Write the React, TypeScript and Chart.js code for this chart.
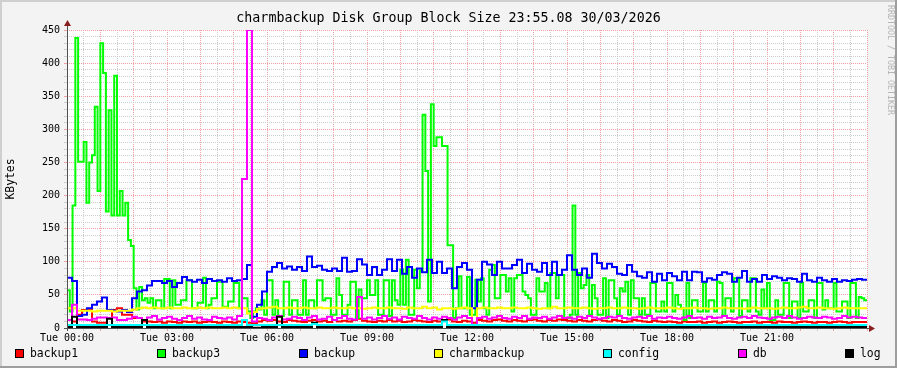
import React, { useEffect, useRef } from 'react';
import { Chart, registerables } from 'chart.js';

Chart.register(...registerables);

const TITLE = 'charmbackup Disk Group Block Size 23:55.08 30/03/2026';
const Y_LABEL = 'KBytes';
const WATERMARK = 'RRDTOOL / TOBI OETIKER';
const X_LABELS = ['Tue 00:00', 'Tue 03:00', 'Tue 06:00', 'Tue 09:00', 'Tue 12:00', 'Tue 15:00', 'Tue 18:00', 'Tue 21:00'];
const Y_MAX = 450;
const DAY_MINUTES = 1440;
const FINE_STEP = 5;   // minutes per sample (backup3)
const COARSE_STEP = 9; // minutes per sample (others)

const SERIES_NAMES = ['backup1', 'backup3', 'backup', 'charmbackup', 'config', 'db', 'log'];
const SERIES_COLORS = ['#ff0000', '#00ff00', '#0000ff', '#ffff00', '#00ffff', '#ff00ff', '#000000'];

const backup1 = [
  12, 10, 20, 27, 27, 10, 8, 8, 15, 27,
  30, 20, 20, 15, 15, 10, 10, 9, 10, 8,
  10, 9, 8, 10, 9, 10, 8, 9, 10, 9,
  8, 10, 9, 8, 10, 9, 8, 7, 10, 12,
  11, 12, 10, 9, 12, 11, 10, 9, 11, 12,
  10, 11, 9, 12, 10, 11, 10, 12, 14, 11,
  10, 9, 11, 10, 12, 10, 11, 9, 10, 12,
  11, 10, 9, 11, 10, 12, 13, 10, 9, 11,
  10, 8, 12, 11, 10, 12, 13, 11, 10, 12,
  11, 10, 12, 13, 11, 10, 12, 11, 13, 12,
  11, 10, 12, 11, 10, 12, 13, 11, 10, 12,
  11, 9, 10, 12, 11, 10, 9, 11, 10, 9,
  10, 9, 8, 10, 9, 9, 10, 8, 9, 10,
  8, 9, 10, 9, 8, 9, 9, 10, 8, 9,
  9, 8, 10, 9, 9, 8, 9, 10, 9, 8,
  9, 9, 8, 9, 10, 9, 8, 9, 9, 9,
];

const backup3 = [
  57, 25, 185, 438, 251, 251, 281, 189, 250, 261,
  334, 207, 430, 385, 176, 329, 170, 381, 170, 207,
  170, 189, 133, 124, 60, 28, 62, 42, 45, 38,
  45, 30, 42, 42, 30, 74, 74, 30, 72, 35,
  35, 42, 42, 72, 72, 30, 30, 38, 38, 76,
  30, 35, 45, 45, 70, 70, 32, 32, 40, 40,
  68, 68, 30, 45, 45, 25, 15, 25, 30, 28,
  42, 20, 72, 72, 20, 42, 18, 18, 70, 70,
  20, 42, 42, 20, 20, 72, 20, 42, 42, 30,
  72, 72, 42, 45, 45, 20, 20, 75, 50, 20,
  20, 35, 70, 70, 15, 58, 45, 45, 72, 50,
  50, 72, 20, 20, 72, 72, 18, 72, 42, 35,
  88, 35, 103, 20, 20, 88, 60, 87, 322, 237,
  40, 338, 275, 288, 288, 275, 275, 125, 125, 15,
  30, 78, 30, 30, 77, 20, 20, 73, 40, 75,
  30, 20, 88, 95, 45, 45, 80, 80, 55, 75,
  25, 75, 80, 80, 55, 50, 45, 20, 20, 75,
  55, 55, 68, 30, 83, 83, 45, 80, 80, 15,
  15, 20, 185, 20, 83, 60, 65, 80, 20, 65,
  45, 20, 20, 75, 15, 72, 72, 45, 20, 60,
  55, 70, 20, 72, 45, 45, 20, 45, 20, 20,
  68, 68, 25, 25, 40, 25, 68, 68, 25, 50,
  35, 30, 12, 68, 15, 42, 42, 25, 25, 68,
  25, 42, 42, 25, 70, 68, 18, 45, 45, 25,
  75, 75, 18, 42, 42, 25, 75, 75, 25, 20,
  58, 30, 68, 12, 12, 42, 20, 20, 68, 68,
  15, 40, 40, 15, 68, 25, 25, 42, 42, 15,
  68, 68, 28, 42, 30, 30, 68, 25, 25, 40,
  40, 15, 68, 68, 15, 47, 45, 42,
];

const backup = [
  76, 71, 18, 20, 30, 35, 40, 46, 27, 26,
  25, 27, 24, 45, 55, 57, 64, 71, 71, 68,
  71, 62, 68, 77, 72, 70, 73, 68, 74, 71,
  72, 70, 75, 71, 72, 74, 95, 17, 35, 55,
  85, 92, 98, 90, 93, 88, 92, 86, 108, 92,
  94, 88, 86, 90, 86, 106, 85, 86, 104, 96,
  80, 92, 80, 88, 104, 86, 103, 82, 92, 76,
  90, 84, 103, 83, 100, 83, 90, 60, 92, 98,
  88, 30, 73, 100, 96, 80, 100, 90, 90, 95,
  103, 83, 97, 88, 85, 98, 80, 100, 80, 88,
  110, 88, 80, 90, 76, 112, 98, 90, 97, 92,
  82, 80, 95, 85, 78, 76, 84, 70, 82, 72,
  83, 78, 72, 85, 72, 85, 84, 70, 75, 73,
  80, 84, 82, 70, 76, 86, 70, 74, 70, 80,
  74, 78, 76, 72, 75, 74, 70, 82, 72, 70,
  76, 72, 70, 74, 70, 72, 71, 73, 74, 73,
];

const charmbackup = [
  30, 30, 26, 26, 26, 25, 26, 26, 26, 25,
  26, 26, 26, 28, 30, 31, 30, 31, 30, 30,
  31, 30, 30, 31, 30, 30, 31, 30, 31, 30,
  30, 31, 30, 31, 30, 30, 22, 24, 29, 30,
  31, 32, 30, 30, 31, 30, 30, 31, 30, 30,
  31, 30, 30, 31, 30, 30, 31, 30, 30, 29,
  30, 31, 30, 30, 31, 30, 30, 29, 31, 30,
  30, 32, 30, 31, 28, 30, 30, 29, 30, 31,
  30, 2, 30, 31, 30, 30, 31, 30, 30, 31,
  30, 30, 31, 30, 29, 30, 30, 32, 30, 30,
  31, 30, 30, 31, 30, 29, 30, 30, 31, 30,
  30, 31, 30, 30, 29, 30, 31, 30, 30, 30,
  31, 30, 29, 30, 30, 31, 30, 30, 29, 30,
  30, 31, 30, 30, 30, 29, 30, 31, 30, 30,
  30, 29, 30, 31, 30, 30, 31, 32, 30, 30,
  31, 30, 30, 29, 30, 31, 30, 30, 30, 30,
];

const config = [
  4.5, 4.5, 4.5, 4.5, 4.5, 4.5, 4.5, 4.5, 4.5, 4.5,
  4.5, 4.5, 4.5, 4.5, 4.5, 4.5, 4.5, 4.5, 4.5, 4.5,
  4.5, 4.5, 4.5, 4.5, 4.5, 4.5, 4.5, 4.5, 4.5, 4.5,
  4.5, 4.5, 4.5, 4.5, 4.5, 12, 4.5, 4.5, 4.5, 4.5,
  4.5, 4.5, 4.5, 4.5, 4.5, 4.5, 4.5, 4.5, 4.5, 6,
  4.5, 4.5, 4.5, 4.5, 4.5, 4.5, 4.5, 4.5, 4.5, 4.5,
  4.5, 4.5, 4.5, 4.5, 4.5, 4.5, 4.5, 4.5, 4.5, 4.5,
  4.5, 4.5, 4.5, 4.5, 4.5, 10, 4.5, 4.5, 4.5, 4.5,
  4.5, 4.5, 4.5, 4.5, 4.5, 4.5, 4.5, 4.5, 4.5, 4.5,
  4.5, 4.5, 4.5, 4.5, 4.5, 4.5, 4.5, 4.5, 4.5, 4.5,
  4.5, 4.5, 4.5, 4.5, 4.5, 4.5, 4.5, 4.5, 4.5, 4.5,
  4.5, 4.5, 4.5, 4.5, 4.5, 4.5, 4.5, 4.5, 4.5, 4.5,
  4.5, 4.5, 4.5, 4.5, 4.5, 4.5, 4.5, 4.5, 4.5, 4.5,
  4.5, 4.5, 4.5, 4.5, 4.5, 4.5, 4.5, 4.5, 4.5, 4.5,
  4.5, 4.5, 4.5, 4.5, 4.5, 4.5, 4.5, 4.5, 4.5, 4.5,
  4.5, 4.5, 4.5, 4.5, 4.5, 4.5, 4.5, 4.5, 4.5, 4.5,
];

const db = [
  12, 35, 13, 13, 12, 14, 16, 16, 15, 16,
  12, 12, 14, 17, 15, 12, 16, 18, 13, 15,
  17, 14, 12, 15, 18, 14, 16, 13, 12, 17,
  15, 14, 16, 13, 18, 225, 450, 10, 15, 14,
  12, 16, 18, 13, 14, 17, 15, 12, 16, 18,
  13, 14, 17, 12, 15, 18, 14, 13, 47, 14,
  16, 13, 15, 18, 14, 16, 13, 17, 15, 14,
  18, 15, 13, 16, 14, 17, 15, 13, 16, 18,
  15, 2, 15, 17, 14, 16, 18, 15, 14, 17,
  15, 18, 14, 16, 15, 17, 14, 16, 18, 15,
  16, 14, 17, 15, 18, 16, 14, 15, 17, 16,
  18, 15, 14, 16, 17, 15, 18, 14, 16, 15,
  17, 15, 14, 16, 18, 15, 16, 14, 17, 15,
  16, 18, 15, 14, 16, 17, 15, 18, 16, 15,
  14, 16, 17, 15, 18, 16, 14, 15, 17, 16,
  15, 17, 16, 14, 15, 18, 16, 17, 16, 15,
];

const log = [
  1.5, 17, 1.5, 1.5, 1.5, 1.5, 1.5, 1.5, 14, 1.5,
  1.5, 1.5, 1.5, 1.5, 1.5, 12, 1.5, 1.5, 1.5, 1.5,
  1.5, 1.5, 1.5, 1.5, 1.5, 1.5, 1.5, 1.5, 1.5, 1.5,
  1.5, 1.5, 1.5, 1.5, 1.5, 1.5, 1.5, 0.5, 0.5, 1.5,
  1.5, 1.5, 17, 1.5, 1.5, 1.5, 1.5, 1.5, 1.5, 8,
  1.5, 1.5, 1.5, 1.5, 1.5, 1.5, 1.5, 1.5, 1.5, 1.5,
  1.5, 1.5, 1.5, 1.5, 1.5, 1.5, 1.5, 1.5, 1.5, 1.5,
  1.5, 1.5, 1.5, 1.5, 1.5, 12, 1.5, 1.5, 1.5, 1.5,
  1.5, 1.5, 1.5, 1.5, 1.5, 1.5, 1.5, 1.5, 1.5, 1.5,
  1.5, 1.5, 1.5, 1.5, 1.5, 1.5, 1.5, 1.5, 1.5, 1.5,
  1.5, 1.5, 1.5, 1.5, 1.5, 1.5, 1.5, 1.5, 1.5, 1.5,
  1.5, 1.5, 1.5, 1.5, 1.5, 1.5, 1.5, 1.5, 1.5, 1.5,
  1.5, 1.5, 1.5, 1.5, 1.5, 1.5, 1.5, 1.5, 1.5, 1.5,
  1.5, 1.5, 1.5, 1.5, 1.5, 1.5, 1.5, 1.5, 1.5, 1.5,
  1.5, 1.5, 1.5, 1.5, 1.5, 1.5, 1.5, 1.5, 1.5, 1.5,
  1.5, 1.5, 1.5, 1.5, 1.5, 1.5, 1.5, 1.5, 1.5, 1.5,
];

const SERIES_VALUES = [backup1, backup3, backup, charmbackup, config, db, log];
const SERIES_STEPS = [COARSE_STEP, FINE_STEP, COARSE_STEP, COARSE_STEP, COARSE_STEP, COARSE_STEP, COARSE_STEP];
// drawing order: lower number is drawn on top
const SERIES_ORDER = [7, 6, 5, 4, 1, 3, 2];

const MONO = '"DejaVu Sans Mono", monospace';
const PINK = '#f2a2a2';
const GRAY = '#cdcdcd';
const LEGEND_X = [15, 157, 299, 434, 603, 738, 845];

function toPoints(values: number[], step: number) {
  const pts = values.map((v, i) => ({ x: i * step, y: v }));
  pts.push({ x: DAY_MINUTES, y: values[values.length - 1] });
  return pts;
}

const rrdPlugin = {
  id: 'rrdDecor',
  beforeDraw(chart: any) {
    const { ctx, width, height, chartArea: a } = chart;
    ctx.save();
    ctx.fillStyle = '#f3f3f3';
    ctx.fillRect(0, 0, width, height);
    ctx.fillStyle = '#cfcfcf';
    ctx.fillRect(0, 0, width, 2);
    ctx.fillRect(0, 0, 2, height);
    ctx.fillStyle = '#9e9e9e';
    ctx.fillRect(0, height - 2, width, 2);
    ctx.fillRect(width - 2, 0, 2, height);
    ctx.fillStyle = '#ffffff';
    ctx.fillRect(a.left, a.top, a.right - a.left, a.bottom - a.top);
    ctx.restore();
  },
  afterDraw(chart: any) {
    const { ctx, width, chartArea: a } = chart;
    ctx.save();
    // axes
    ctx.strokeStyle = '#505050';
    ctx.lineWidth = 1;
    ctx.beginPath();
    ctx.moveTo(a.left + 0.5, a.bottom + 3);
    ctx.lineTo(a.left + 0.5, a.top - 6);
    ctx.moveTo(a.left - 3, a.bottom + 0.5);
    ctx.lineTo(a.right + 4, a.bottom + 0.5);
    ctx.stroke();
    // arrows
    ctx.fillStyle = '#8a1e1e';
    ctx.beginPath();
    ctx.moveTo(a.left + 0.5, a.top - 10);
    ctx.lineTo(a.left - 3, a.top - 4);
    ctx.lineTo(a.left + 4, a.top - 4);
    ctx.closePath();
    ctx.fill();
    ctx.beginPath();
    ctx.moveTo(a.right + 8, a.bottom + 0.5);
    ctx.lineTo(a.right + 2, a.bottom - 3);
    ctx.lineTo(a.right + 2, a.bottom + 4);
    ctx.closePath();
    ctx.fill();
    // title
    ctx.fillStyle = '#000';
    ctx.font = '13.3px ' + MONO;
    ctx.textAlign = 'center';
    ctx.textBaseline = 'middle';
    ctx.fillText(TITLE, width / 2, 19);
    // y label
    ctx.save();
    ctx.translate(11, (a.top + a.bottom) / 2);
    ctx.rotate(-Math.PI / 2);
    ctx.font = '11.4px ' + MONO;
    ctx.fillText(Y_LABEL, 0, 0);
    ctx.restore();
    // legend
    ctx.font = '11.4px ' + MONO;
    ctx.textAlign = 'left';
    ctx.textBaseline = 'middle';
    chart.data.datasets.forEach((ds: any, i: number) => {
      const x = LEGEND_X[i];
      ctx.fillStyle = ds.borderColor;
      ctx.fillRect(x, 349, 9, 9);
      ctx.strokeStyle = '#000';
      ctx.strokeRect(x + 0.5, 349.5, 8, 8);
      ctx.fillStyle = '#000';
      ctx.fillText(ds.label, x + 15, 354);
    });
    // watermark
    ctx.save();
    ctx.translate(890, 5);
    ctx.rotate(Math.PI / 2);
    ctx.font = '8.3px ' + MONO;
    ctx.fillStyle = '#b4b4b4';
    ctx.textAlign = 'left';
    ctx.textBaseline = 'middle';
    ctx.fillText(WATERMARK, 0, 0);
    ctx.restore();
    ctx.restore();
  },
};

export default function App() {
  const ref = useRef<HTMLCanvasElement | null>(null);
  useEffect(() => {
    if (!ref.current) return;
    const datasets = SERIES_NAMES.map((name, i) => ({
      label: name,
      data: toPoints(SERIES_VALUES[i], SERIES_STEPS[i]),
      borderColor: SERIES_COLORS[i],
      backgroundColor: SERIES_COLORS[i],
      borderWidth: 2,
      pointRadius: 0,
      stepped: true,
      fill: false,
      order: SERIES_ORDER[i],
      borderJoinStyle: 'miter',
    }));
    const chart = new Chart(ref.current, {
      type: 'line',
      data: { datasets } as any,
      options: {
        animation: false,
        responsive: true,
        maintainAspectRatio: false,
        devicePixelRatio: 1,
        layout: { padding: { left: 0, right: 30, top: 30, bottom: 0 } },
        plugins: { legend: { display: false }, title: { display: false }, tooltip: { enabled: false } },
        events: [],
        scales: {
          x: {
            type: 'linear',
            min: 0,
            max: DAY_MINUTES,
            afterFit: (s: any) => { s.height = 40; },
            ticks: {
              stepSize: 30,
              autoSkip: false,
              maxRotation: 0,
              minRotation: 0,
              padding: 1,
              color: '#000',
              font: { family: MONO, size: 10 },
              callback: (v: any) => (v % 180 === 0 && v < DAY_MINUTES ? X_LABELS[v / 180] : ''),
            },
            grid: {
              color: (c: any) => (c.tick && c.tick.value % 60 === 0 ? PINK : GRAY),
              tickColor: (c: any) => (c.tick && c.tick.value % 60 === 0 ? PINK : GRAY),
              lineWidth: 1,
              tickLength: 3,
            },
            border: { display: false, dash: [1, 1] },
          },
          y: {
            type: 'linear',
            min: 0,
            max: Y_MAX,
            afterFit: (s: any) => { s.width = 67; },
            ticks: {
              stepSize: 10,
              autoSkip: false,
              padding: 4,
              color: '#000',
              font: { family: MONO, size: 10 },
              callback: (v: any) => (v % 50 === 0 ? String(v) : ''),
            },
            grid: {
              color: (c: any) => (c.tick && c.tick.value % 50 === 0 ? PINK : GRAY),
              tickColor: (c: any) => (c.tick && c.tick.value % 50 === 0 ? PINK : GRAY),
              lineWidth: 1,
              tickLength: 3,
            },
            border: { display: false, dash: [1, 1] },
          },
        },
      } as any,
      plugins: [rrdPlugin],
    });
    return () => chart.destroy();
  }, []);
  return (
    <div style={{ position: 'absolute', left: 0, top: 0, width: 897, height: 368 }}>
      <canvas ref={ref} />
    </div>
  );
}
